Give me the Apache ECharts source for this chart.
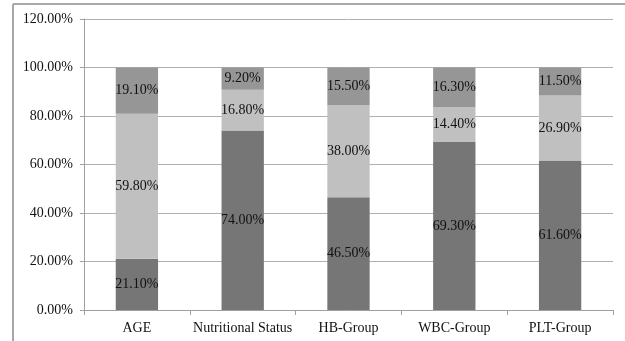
<!DOCTYPE html>
<html><head><meta charset="utf-8">
<script src="https://cdn.jsdelivr.net/npm/echarts@6/dist/echarts.min.js"></script>
<style>html,body{margin:0;padding:0;background:#fff}#c{width:625px;height:341px}</style>
</head><body><div id="c"></div>
<script>
const categories = ['AGE','Nutritional Status','HB-Group','WBC-Group','PLT-Group'];
const seriesBottom = [21.1, 74.0, 46.5, 69.3, 61.6];
const seriesMiddle = [59.8, 16.8, 38.0, 14.4, 26.9];
const seriesTop = [19.1, 9.2, 15.5, 16.3, 11.5];
const yMax = 120, yStep = 20;

const font = 'Liberation Serif';
const lbl = {
  show: true, position: 'inside', color: '#111', fontFamily: font, fontSize: 14,
  formatter: p => p.value === 0 ? '' : p.value.toFixed(2) + '%'
};
function mk(name, data, color) {
  return { name, type: 'bar', stack: 'all', data, barWidth: '40%',
    itemStyle: { color }, label: lbl, animation: false };
}
const chart = echarts.init(document.getElementById('c'), null, {renderer: 'canvas'});
chart.setOption({
  animation: false,
  grid: { left: 84, right: 12, top: 19, bottom: 31 },
  graphic: [
    { type: 'line', shape: { x1: 13, y1: 4, x2: 625, y2: 4 }, style: { stroke: '#a8a8a8', lineWidth: 2 } },
    { type: 'line', shape: { x1: 13, y1: 4, x2: 13, y2: 341 }, style: { stroke: '#a8a8a8', lineWidth: 2 } }
  ],
  xAxis: {
    type: 'category', data: categories, boundaryGap: true,
    axisLine: { lineStyle: { color: '#a0a0a0' } },
    axisTick: { show: true, length: 5, lineStyle: { color: '#a0a0a0' } },
    axisLabel: { color: '#111', fontFamily: font, fontSize: 14, margin: 11, interval: 0 }
  },
  yAxis: {
    type: 'value', min: 0, max: yMax, interval: yStep,
    axisLine: { show: true, lineStyle: { color: '#a0a0a0' } },
    axisTick: { show: true, length: 4, lineStyle: { color: '#a0a0a0' } },
    splitLine: { lineStyle: { color: '#b0b0b0' } },
    axisLabel: { color: '#111', fontFamily: font, fontSize: 14, margin: 11, formatter: v => v.toFixed(2) + '%' }
  },
  series: [
    mk('s1', seriesBottom, '#767676'),
    mk('s2', seriesMiddle, '#c0c0c0'),
    mk('s3', seriesTop, '#969696')
  ]
});
</script></body></html>
